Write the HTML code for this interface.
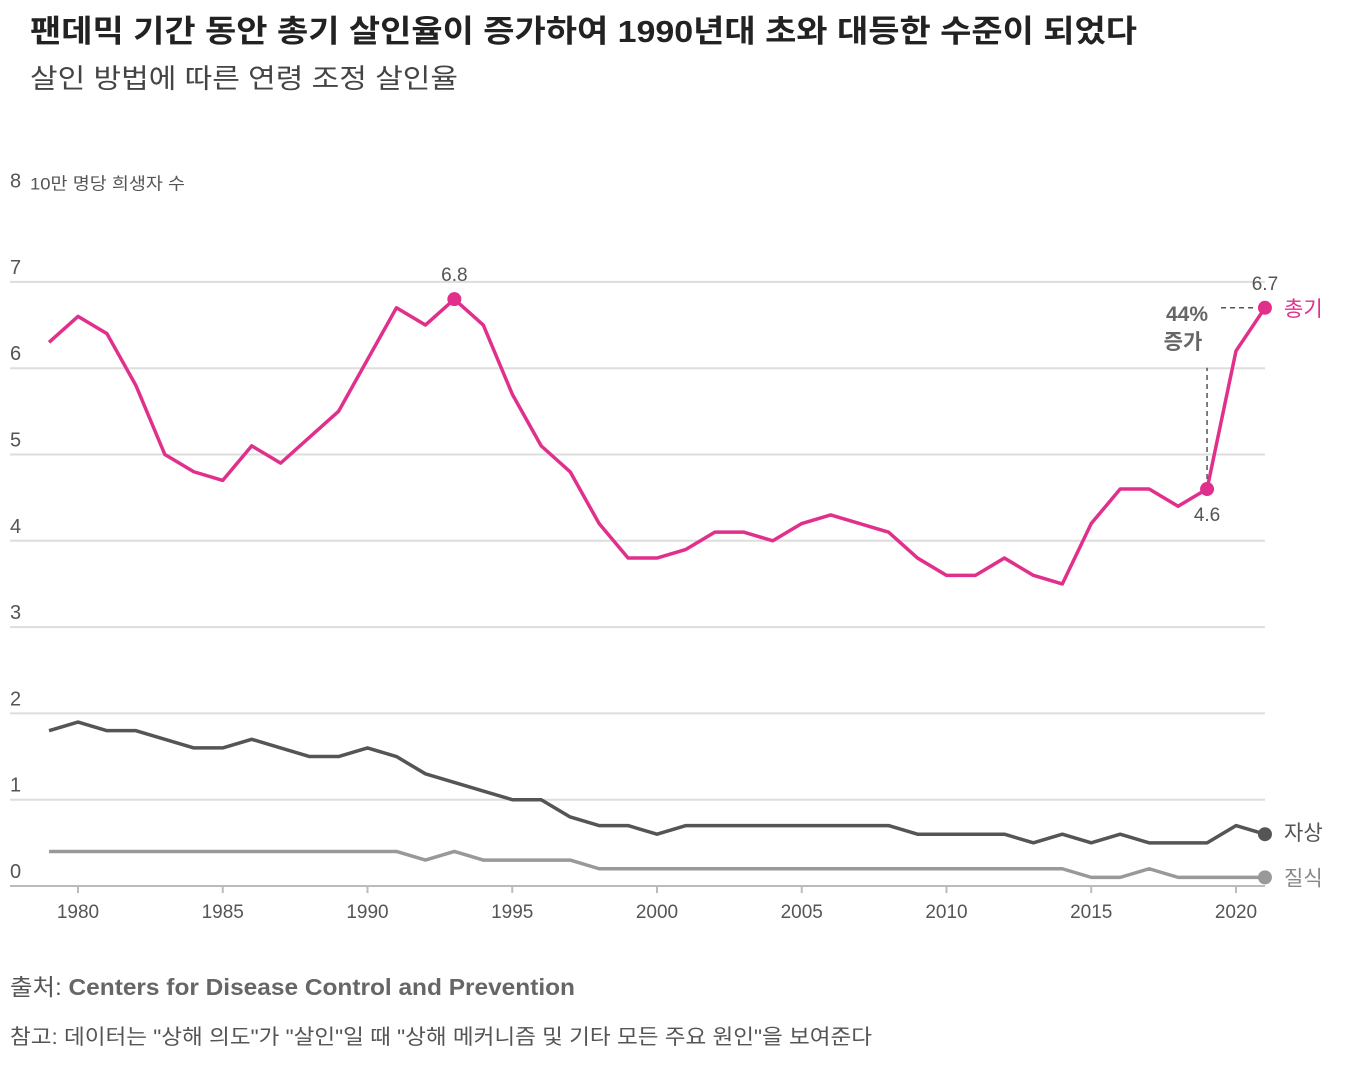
<!DOCTYPE html>
<html><head><meta charset="utf-8">
<style>
body{margin:0;background:#fff;width:1358px;height:1068px;overflow:hidden;font-family:"Liberation Sans","Noto Sans CJK KR",sans-serif;}
</style></head>
<body>
<svg id="c" width="1358" height="1068" xmlns="http://www.w3.org/2000/svg" style="font-family:'Liberation Sans','Noto Sans CJK KR',sans-serif">
<text x="30" y="42" font-size="31" font-weight="bold" fill="#222" textLength="1107" lengthAdjust="spacingAndGlyphs">팬데믹 기간 동안 총기 살인율이 증가하여 1990년대 초와 대등한 수준이 되었다</text>
<text x="30" y="88" font-size="27" fill="#444" textLength="428" lengthAdjust="spacingAndGlyphs">살인 방법에 따른 연령 조정 살인율</text>
<g id="grid"></g><g id="xt"></g><g id="lines"></g>
<text x="10" y="995" font-size="23" fill="#555" textLength="565" lengthAdjust="spacingAndGlyphs">출처: <tspan font-weight="bold" fill="#666">Centers for Disease Control and Prevention</tspan></text>
<text x="10" y="1044" font-size="21" fill="#555" textLength="862" lengthAdjust="spacingAndGlyphs">참고: 데이터는 "상해 의도"가 "살인"일 때 "상해 메커니즘 및 기타 모든 주요 원인"을 보여준다</text>
</svg>
<script>
const years=[];for(let y=1979;y<=2021;y++)years.push(y);
const firearm=[6.3,6.6,6.4,5.8,5.0,4.8,4.7,5.1,4.9,5.2,5.5,6.1,6.7,6.5,6.8,6.5,5.7,5.1,4.8,4.2,3.8,3.8,3.9,4.1,4.1,4.0,4.2,4.3,4.2,4.1,3.8,3.6,3.6,3.8,3.6,3.5,4.2,4.6,4.6,4.4,4.6,6.2,6.7];
const cutting=[1.8,1.9,1.8,1.8,1.7,1.6,1.6,1.7,1.6,1.5,1.5,1.6,1.5,1.3,1.2,1.1,1.0,1.0,0.8,0.7,0.7,0.6,0.7,0.7,0.7,0.7,0.7,0.7,0.7,0.7,0.6,0.6,0.6,0.6,0.5,0.6,0.5,0.6,0.5,0.5,0.5,0.7,0.6];
const suffocation=[0.4,0.4,0.4,0.4,0.4,0.4,0.4,0.4,0.4,0.4,0.4,0.4,0.4,0.3,0.4,0.3,0.3,0.3,0.3,0.2,0.2,0.2,0.2,0.2,0.2,0.2,0.2,0.2,0.2,0.2,0.2,0.2,0.2,0.2,0.2,0.2,0.1,0.1,0.2,0.1,0.1,0.1,0.1];
const yTicks=[0,1,2,3,4,5,6,7,8];
const xTicks=[1980,1985,1990,1995,2000,2005,2010,2015,2020];
const NS="http://www.w3.org/2000/svg";
const X=y=>78+(y-1980)*28.95;
const Y=v=>886-v*86.3;
function mk(tag,attrs,parent,txt){const e=document.createElementNS(NS,tag);for(const k in attrs)e.setAttribute(k,attrs[k]);if(txt!==undefined)e.textContent=txt;document.getElementById(parent).appendChild(e);return e;}
yTicks.forEach(t=>{
  if(t<8){const l=mk('line',{x1:10,x2:1265,y1:Y(t),y2:Y(t),stroke:t===0?'#bbb':'#ddd','stroke-width':2},'grid');
  
  }
  const tx=mk('text',{x:10,y:Y(t)-8,'font-size':20,fill:'#555'},'grid',String(t));
  
  
});
const yl=mk('text',{x:30,y:Y(8)-6,'font-size':17,fill:'#555',textLength:155,lengthAdjust:'spacingAndGlyphs'},'grid','10만 명당 희생자 수');


xTicks.forEach(t=>{
  const l=mk('line',{x1:X(t),x2:X(t),y1:886,y2:893,stroke:'#bbb','stroke-width':2},'xt');
  
  
  const tx=mk('text',{x:X(t),y:918,'font-size':19,fill:'#555','text-anchor':'middle'},'xt',String(t));
  
  
});
function series(vals,color,name,w){
  const d=vals.map((v,i)=>(i?'L':'M')+X(years[i])+','+Y(v)).join('');
  const p=mk('path',{d:d,fill:'none',stroke:color,'stroke-width':w,'stroke-linejoin':'round'},'lines');
  
  
}
series(suffocation,'#999','suffocation',3.5);
series(cutting,'#555','cutting',3.5);
series(firearm,'#e0308c','firearm',3.5);
function dot(i,vals,color,name){const c=mk('circle',{cx:X(years[i]),cy:Y(vals[i]),r:7,fill:color},'lines');
  
  }
const last=years.length-1,i93=years.indexOf(1993),i19=years.indexOf(2019);
dot(last,firearm,'#e0308c','firearm-end-dot');
dot(i93,firearm,'#e0308c','firearm-peak-dot');
dot(i19,firearm,'#e0308c','firearm-2019-dot');
dot(last,cutting,'#555','cutting-end-dot');
dot(last,suffocation,'#999','suffocation-end-dot');
function lab(x,y,t,attrs,name){const e=mk('text',Object.assign({x:x,y:y,'font-size':19,fill:'#555'},attrs),'lines',t);
  
  }
lab(X(1993),Y(firearm[i93])-18,String(firearm[i93]),{'text-anchor':'middle'},'peak-label');
lab(X(2021),Y(firearm[last])-18,String(firearm[last]),{'text-anchor':'middle'},'end-label');
lab(X(2019),Y(firearm[i19])+32,String(firearm[i19]),{'text-anchor':'middle'},'low-label');
lab(1284,Y(firearm[last])+8,'총기',{'font-size':21,fill:'#e0308c'},'legend-firearm');
lab(1284,Y(cutting[last])+6,'자상',{'font-size':21,fill:'#555'},'legend-cutting');
lab(1284,Y(suffocation[last])+8,'질식',{'font-size':21,fill:'#888'},'legend-suffocation');
const dl=mk('path',{d:`M${X(2019)},${Y(firearm[i19])-10}V${Y(firearm[last])+60}M${X(2019)+14},${Y(firearm[last])}H${X(2021)-10}`,stroke:'#555','stroke-width':1.5,'stroke-dasharray':'5,4',fill:'none'},'lines');


lab(1187,321,'44%',{'font-size':21,'font-weight':'bold',fill:'#666','text-anchor':'middle'},'increase-percent');
lab(1183,349,'증가',{'font-size':21,'font-weight':'bold',fill:'#666','text-anchor':'middle'},'increase-text');
</script>
</body></html>
